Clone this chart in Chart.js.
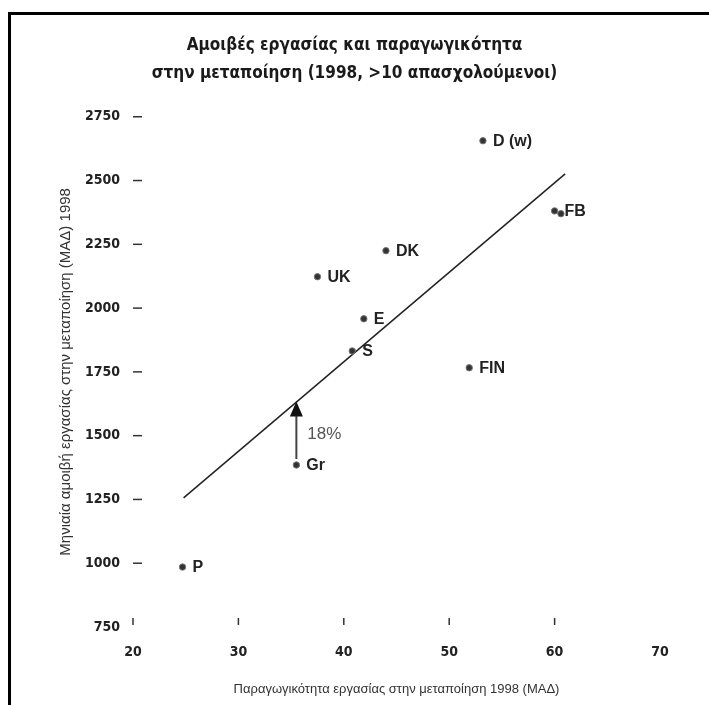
<!DOCTYPE html>
<html>
<head>
<meta charset="utf-8">
<script src="https://cdn.jsdelivr.net/npm/chart.js@4.4.1/dist/chart.umd.min.js"></script>
<style>
  html, body { margin: 0; padding: 0; background: #fff; }
  #wrap { position: relative; width: 709px; height: 705px; }
  #marco { position: absolute; left: 8px; top: 12px; right: 0; bottom: 0;
           border-top: 3px solid #000; border-left: 3px solid #000; pointer-events: none; }
</style>
</head>
<body>
<div id="wrap">
  <canvas id="grafica" width="709" height="705"></canvas>
  <div id="marco"></div>
</div>
<script>
// Datos
const paises        = ['P', 'Gr', 'UK', 'S', 'E', 'DK', 'FIN', 'D (w)', 'F', 'B']
const etiquetas     = ['P', 'Gr', 'UK', 'S', 'E', 'DK', 'FIN', 'D (w)', 'FB', '']
const productividad = [24.7, 35.5, 37.5, 40.8, 41.9, 44.0, 51.9, 53.2, 60.0, 60.6]
const salario       = [985, 1385, 2123, 1832, 1958, 2225, 1766, 2656, 2381, 2370]

// recta de regresion
const tendenciaX = [24.8, 61.0]
const tendenciaY = [1256, 2526]

// flecha Gr -> recta
const flechaPais = 'Gr'
const flechaPct  = 18

const xTicks = [20, 30, 40, 50, 60, 70]
const yTicks = [750, 1000, 1250, 1500, 1750, 2000, 2250, 2500, 2750]
const xMarcas = [20, 30, 40, 50, 60]
const yMarcas = [1000, 1250, 1500, 1750, 2000, 2250, 2500, 2750]

const FONT   = "'Liberation Sans', Arial, sans-serif"
const NARROW = "'DejaVu Sans Condensed', 'Liberation Sans', sans-serif"

const anotaciones = {
  id: 'anotaciones',
  afterDatasetsDraw(chart) {
    const { ctx, chartArea, scales: { x, y } } = chart
    ctx.save()

    // marcas de los ejes
    ctx.strokeStyle = '#333'
    ctx.lineWidth = 1.5
    yMarcas.forEach(function(v) {
      const py = y.getPixelForValue(v)
      ctx.beginPath()
      ctx.moveTo(chartArea.left, py)
      ctx.lineTo(chartArea.left + 9, py)
      ctx.stroke()
    })
    xMarcas.forEach(function(v) {
      const px = x.getPixelForValue(v)
      ctx.beginPath()
      ctx.moveTo(px, chartArea.bottom - 9)
      ctx.lineTo(px, chartArea.bottom - 2)
      ctx.stroke()
    })

    // nombres de los paises
    ctx.fillStyle = '#222'
    ctx.font = 'bold 16px ' + FONT
    ctx.textBaseline = 'middle'
    ctx.textAlign = 'left'
    etiquetas.forEach(function(t, i) {
      if (!t) return
      ctx.fillText(t, x.getPixelForValue(productividad[i]) + 10, y.getPixelForValue(salario[i]) + 1)
    })

    // flecha
    const i = paises.indexOf(flechaPais)
    const fx = x.getPixelForValue(productividad[i])
    const y0 = y.getPixelForValue(salario[i]) - 6
    const y1 = y.getPixelForValue(salario[i] * (1 + flechaPct / 100))
    ctx.strokeStyle = '#444'
    ctx.lineWidth = 2
    ctx.beginPath()
    ctx.moveTo(fx, y0)
    ctx.lineTo(fx, y1 + 12)
    ctx.stroke()
    ctx.fillStyle = '#111'
    ctx.beginPath()
    ctx.moveTo(fx, y1)
    ctx.lineTo(fx - 6.5, y1 + 15)
    ctx.lineTo(fx + 6.5, y1 + 15)
    ctx.closePath()
    ctx.fill()

    ctx.fillStyle = '#555'
    ctx.font = '17px ' + FONT
    ctx.fillText(flechaPct + '%', fx + 11, (y0 + y1) / 2 + 4)

    ctx.restore()
  }
}

new Chart(document.getElementById('grafica'), {
  type: 'scatter',
  data: {
    datasets: [{
      label: 'Paises',
      data: productividad.map(function(v, i) { return { x: v, y: salario[i] } }),
      backgroundColor: '#333',
      borderColor: '#777',
      borderWidth: 1,
      pointRadius: 3.2,
    }, {
      type: 'line',
      label: 'Tendencia',
      data: tendenciaX.map(function(v, i) { return { x: v, y: tendenciaY[i] } }),
      borderColor: '#222',
      borderWidth: 1.5,
      pointRadius: 0,
      fill: false,
    }]
  },
  options: {
    responsive: false,
    animation: false,
    layout: { padding: { top: 32, left: 0, right: 0, bottom: 0 } },
    plugins: {
      legend: { display: false },
      tooltip: { enabled: false },
      title: {
        display: true,
        text: ['Αμοιβές εργασίας και παραγωγικότητα', 'στην μεταποίηση (1998, >10 απασχολούμενοι)'],
        color: '#1a1a1a',
        font: { family: NARROW, size: 17, weight: 'bold', lineHeight: 1.64 },
        padding: { top: 0, bottom: 29 },
      }
    },
    scales: {
      x: {
        type: 'linear', min: 20, max: 70,
        afterBuildTicks: function(s) { s.ticks = xTicks.map(function(v) { return { value: v } }) },
        afterFit: function(s) { s.height = 78 },
        grid: { display: false, drawTicks: false },
        border: { display: false },
        ticks: { color: '#222', font: { family: NARROW, size: 14, weight: 'bold' }, padding: 17, maxRotation: 0,
                 callback: function(v) { return String(v) } },
        title: {
          display: true,
          text: 'Παραγωγικότητα εργασίας στην μεταποίηση 1998 (ΜΑΔ)',
          color: '#333',
          font: { family: FONT, size: 13 },
          padding: { top: 0, bottom: 8 },
        }
      },
      y: {
        type: 'linear', min: 750, max: 2750,
        afterBuildTicks: function(s) { s.ticks = yTicks.map(function(v) { return { value: v } }) },
        afterFit: function(s) { s.width = 133 },
        grid: { display: false, drawTicks: false },
        border: { display: false },
        ticks: { color: '#222', font: { family: NARROW, size: 14, weight: 'bold' }, padding: 13,
                 callback: function(v) { return String(v) } },
        title: {
          display: true,
          text: 'Μηνιαία αμοιβή εργασίας στην μεταποίηση (ΜΑΔ) 1998',
          color: '#333',
          font: { family: FONT, size: 15 },
          padding: { top: 57, bottom: 0 },
        }
      },
      // eje vacio a la derecha, solo para dejar el margen
      margen: {
        type: 'linear', position: 'right', min: 0, max: 1,
        afterFit: function(s) { s.width = 49 },
        grid: { display: false, drawTicks: false },
        border: { display: false },
        ticks: { display: false },
      }
    }
  },
  plugins: [anotaciones]
})
</script>
</body>
</html>
